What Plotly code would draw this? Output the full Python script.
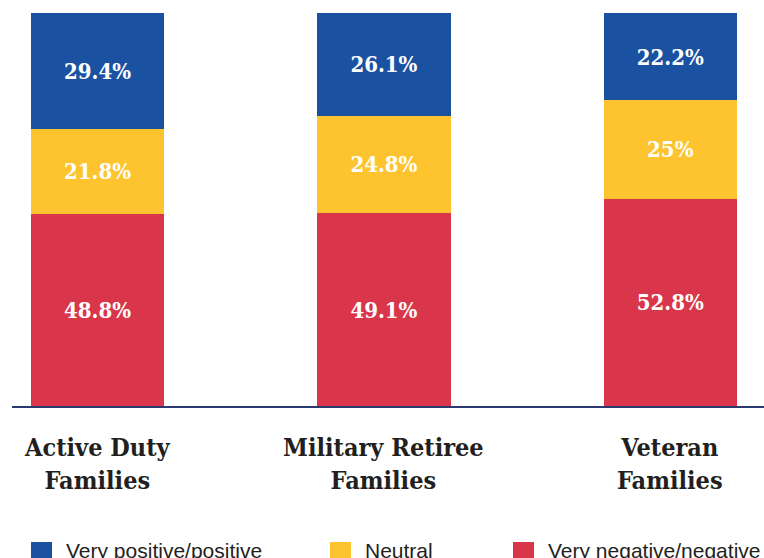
import plotly.graph_objects as go

categories = ["Active Duty<br>Families", "Military Retiree<br>Families", "Veteran<br>Families"]
series_names = ["Very negative/negative", "Neutral", "Very positive/positive"]
negative = [48.8, 49.1, 52.8]
neutral = [21.8, 24.8, 25]
positive = [29.4, 26.1, 22.2]
colors = {"Very negative/negative": "#d9364b", "Neutral": "#fec42f", "Very positive/positive": "#1a52a1"}
legend_order = ["Very positive/positive", "Neutral", "Very negative/negative"]

W, H = 764, 558
ML, MR, MT, MB = 12, 0, 13, 152
PW, PH = W - ML - MR, H - MT - MB

def px_x(p):
    return (p - ML) / PW

def px_y(p):
    return (H - MB - p) / PH

xs = list(range(len(categories)))
fig = go.Figure()
for name, vals in zip(series_names, [negative, neutral, positive]):
    fig.add_trace(go.Bar(
        x=xs, y=vals, name=name, width=0.465,
        marker=dict(color=colors[name], line=dict(width=0)),
        texttemplate="%{y}%", textposition="inside", insidetextanchor="middle",
        textangle=0, constraintext="none",
        textfont=dict(family="DejaVu Serif Condensed", size=22, color="white", weight="bold"),
        showlegend=False, hoverinfo="skip",
    ))

annotations = []
for i, c in enumerate(categories):
    annotations.append(dict(
        x=i, xref="x", y=px_y(464), yref="paper", text=c, showarrow=False,
        xanchor="center", yanchor="middle",
        font=dict(family="DejaVu Serif Condensed", size=25, color="#231f20", weight="bold"),
    ))

legend_sq_x = [31, 330, 513]
shapes = []
for name, lx in zip(legend_order, legend_sq_x):
    shapes.append(dict(type="rect", xref="paper", yref="paper",
                       x0=px_x(lx), x1=px_x(lx + 21), y0=px_y(542), y1=px_y(560),
                       fillcolor=colors[name], line=dict(width=0)))
    annotations.append(dict(
        x=px_x(lx + 33), xref="paper", y=px_y(550), yref="paper", text=name,
        showarrow=False, xanchor="left", yanchor="middle",
        font=dict(family="Liberation Sans", size=21, color="#231f20"),
    ))

fig.update_layout(
    width=W, height=H, margin=dict(l=ML, r=MR, t=MT, b=MB),
    barmode="stack", plot_bgcolor="white", paper_bgcolor="white",
    xaxis=dict(range=[-0.299, 2.327], showticklabels=False, showgrid=False, zeroline=False,
               showline=True, linecolor="#2b3b6e", linewidth=2, ticks=""),
    yaxis=dict(range=[0, 100], visible=False, showgrid=False),
    annotations=annotations, shapes=shapes,
)
fig.write_html("out.html")
